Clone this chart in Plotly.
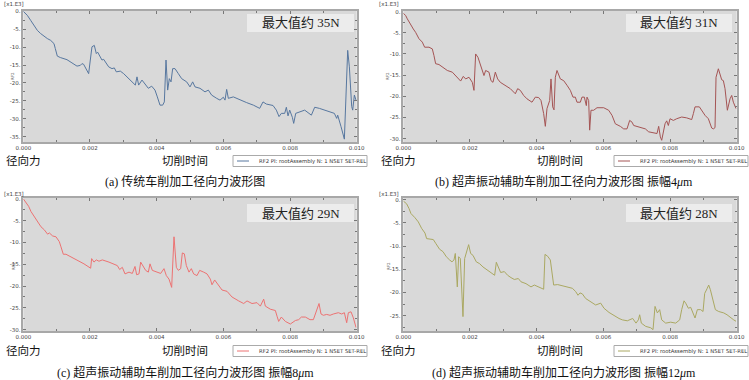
import plotly.graph_objects as go

# ---------------- data (values in x1.E3 units as displayed) ----------------
t_a = [0, 0.00012, 0.00022, 0.00032, 0.00042, 0.00052, 0.00062, 0.00072, 0.00082, 0.00092, 0.00096,
       0.00102, 0.00111, 0.00131, 0.00146, 0.00161, 0.00171, 0.00176, 0.00181, 0.00191, 0.00196,
       0.00201, 0.00206, 0.00213, 0.00219, 0.00223, 0.00229, 0.00236, 0.00241, 0.00249, 0.00256,
       0.00266, 0.00273, 0.00279, 0.00291, 0.00301, 0.00311, 0.00326, 0.00336, 0.00341, 0.00346,
       0.00356, 0.00366, 0.00375, 0.00385, 0.00395, 0.00402, 0.0041, 0.00418, 0.00423, 0.00428,
       0.00433, 0.00438, 0.00443, 0.00448, 0.00455, 0.00465, 0.00475, 0.0049, 0.005, 0.00508,
       0.00515, 0.0053, 0.00545, 0.00555, 0.00565, 0.0058, 0.0059, 0.006, 0.00605, 0.0061,
       0.00615, 0.0063, 0.0065, 0.0067, 0.0069, 0.00709, 0.00719, 0.00729, 0.00749, 0.00759,
       0.00767, 0.00774, 0.00784, 0.00789, 0.00794, 0.00799, 0.00807, 0.00811, 0.00817, 0.00829,
       0.00844, 0.00864, 0.00874, 0.00888, 0.00918, 0.00933, 0.0094, 0.00943, 0.00953, 0.00963,
       0.00973, 0.00978, 0.00985, 0.00988, 0.00993, 0.00998]
f_a = [0, -1.1, -2.5, -3.9, -5.3, -6.2, -7.0, -7.6, -8.1, -9.0, -10.4,
       -12.5, -12.9, -13.5, -14.4, -15.3, -15.1, -14.6, -14.8, -16.4, -17.4,
       -13.6, -9.9, -9.5, -11.8, -11.4, -12.5, -13.6, -13.4, -14.6, -15.5,
       -16.0, -15.8, -16.9, -16.7, -17.4, -18.3, -19.7, -20.6, -18.3, -20.6,
       -19.2, -20.6, -21.5, -20.9, -22.0, -23.9, -26.2, -26.2, -25.3, -13.6,
       -22.0, -18.8, -19.7, -16.0, -16.0, -17.4, -18.8, -19.7, -21.1, -19.7,
       -21.1, -21.5, -22.5, -22.0, -23.4, -24.3, -24.8, -24.0, -24.8, -21.8,
       -24.3, -23.9, -24.8, -25.5, -26.2, -27.1, -25.3, -25.9, -26.3, -27.6,
       -29.4, -28.5, -28.5, -26.8, -29.2, -27.6, -29.6, -31.3, -28.5, -28.0,
       -27.6, -29.0, -26.8, -27.1, -28.0, -28.5, -29.9, -29.0, -32.2, -35.7,
       -10.9, -15.5, -26.6, -27.6, -23.4, -24.8]

t_b = [0, 0.00007, 0.00012, 0.0002, 0.0003, 0.00037, 0.00047, 0.00057, 0.00064, 0.00077, 0.00087,
       0.00092, 0.00097, 0.00107, 0.00117, 0.00132, 0.00147, 0.00157, 0.00167, 0.00172, 0.0018,
       0.00187, 0.00197, 0.00207, 0.00212, 0.00217, 0.00224, 0.00232, 0.00237, 0.00242, 0.00247,
       0.00257, 0.00263, 0.00269, 0.00276, 0.00283, 0.00291, 0.00306, 0.00321, 0.00336, 0.00343,
       0.00351, 0.00361, 0.00371, 0.00386, 0.00396, 0.00406, 0.00413, 0.00421, 0.00426, 0.00431,
       0.00439, 0.00443, 0.00448, 0.00452, 0.00456, 0.00461, 0.00471, 0.00481, 0.00491, 0.00501,
       0.00509, 0.00516, 0.00521, 0.00531, 0.00536, 0.00543, 0.00549, 0.00551, 0.00556, 0.00559,
       0.00563, 0.00571, 0.00581, 0.00601, 0.00616, 0.00626, 0.00636, 0.00651, 0.00661, 0.00671,
       0.00679, 0.00686, 0.00691, 0.00701, 0.00711, 0.00726, 0.00736, 0.00751, 0.00761, 0.00766,
       0.00771, 0.00775, 0.0078, 0.00785, 0.0079, 0.00795, 0.008, 0.0081, 0.0082, 0.00835,
       0.0085, 0.00865, 0.0087, 0.00875, 0.00888, 0.00895, 0.00905, 0.00915, 0.00925, 0.0093,
       0.00935, 0.00938, 0.00945, 0.00955, 0.0096, 0.00965, 0.00972, 0.0098, 0.00985, 0.0099,
       0.00998]
f_b = [-0.4, -0.9, -1.7, -2.9, -4.1, -4.9, -6.4, -7.2, -8.4, -8.4, -8.8,
       -10.4, -12.3, -12.5, -13.1, -13.9, -14.3, -15.1, -15.9, -16.4, -15.3,
       -15.9, -15.5, -16.7, -18.6, -10.0, -10.8, -12.7, -13.5, -15.1, -13.9,
       -14.3, -16.3, -16.7, -14.3, -15.9, -16.7, -17.4, -18.2, -19.4, -18.2,
       -18.6, -19.8, -20.6, -21.4, -20.2, -20.3, -21.0, -24.1, -27.1, -22.9,
       -21.0, -15.9, -22.5, -23.2, -15.5, -13.9, -15.9, -16.3, -17.4, -18.6,
       -20.2, -20.2, -21.4, -21.4, -20.2, -20.2, -22.2, -20.2, -21.0, -28.0,
       -23.3, -23.3, -22.7, -22.7, -23.3, -24.5, -26.5, -27.1, -27.7, -27.7,
       -25.7, -26.1, -26.9, -27.1, -27.3, -27.7, -28.4, -28.7, -28.8, -27.1,
       -29.6, -30.4, -28.8, -26.5, -25.8, -26.9, -25.3, -25.7, -25.3, -24.9,
       -25.1, -25.5, -24.1, -22.5, -22.5, -23.3, -24.5, -25.3, -27.5, -27.7,
       -27.4, -15.5, -13.5, -16.1, -16.3, -18.2, -23.3, -20.6, -19.8, -21.4,
       -22.9]

t_c = [0, 0.00008, 0.00016, 0.00023, 0.00033, 0.00043, 0.00053, 0.00063, 0.00073, 0.00078, 0.00088,
       0.00098, 0.00108, 0.00113, 0.0012, 0.00128, 0.00143, 0.00163, 0.00182, 0.00202, 0.00205,
       0.00212, 0.00219, 0.00227, 0.00237, 0.00257, 0.00272, 0.00282, 0.00289, 0.00297, 0.00305,
       0.00317, 0.00327, 0.00335, 0.0034, 0.00347, 0.00352, 0.00359, 0.00367, 0.00375, 0.0038,
       0.00387, 0.00402, 0.00412, 0.00422, 0.00429, 0.00437, 0.00445, 0.00452, 0.00459, 0.00465,
       0.00472, 0.00477, 0.00483, 0.00489, 0.00497, 0.00504, 0.00511, 0.00521, 0.00529, 0.00541,
       0.00551, 0.00561, 0.00566, 0.00574, 0.00586, 0.00596, 0.00611, 0.00626, 0.00646, 0.00661,
       0.00671, 0.00686, 0.00701, 0.00711, 0.00721, 0.00726, 0.00741, 0.00756, 0.00761, 0.00766,
       0.00774, 0.00786, 0.00801, 0.00816, 0.00826, 0.00834, 0.00846, 0.0086, 0.0087, 0.00877,
       0.00883, 0.00887, 0.00893, 0.009, 0.0091, 0.0092, 0.0093, 0.00945, 0.00955, 0.00963,
       0.0097, 0.00975, 0.00983, 0.0099, 0.00998]
f_c = [0, -0.9, -1.7, -2.9, -4.0, -5.2, -6.4, -7.1, -8.1, -7.8, -8.5,
       -8.7, -9.8, -11.0, -12.7, -12.7, -13.3, -14.1, -14.9, -15.9, -13.7,
       -14.5, -14.0, -14.3, -14.0, -14.5, -14.9, -15.3, -16.2, -15.7, -17.2,
       -16.8, -17.1, -15.5, -17.4, -17.2, -14.5, -15.5, -16.4, -16.8, -14.9,
       -16.4, -16.8, -17.1, -16.0, -17.6, -18.4, -20.3, -8.7, -15.7, -16.4,
       -16.0, -12.4, -12.6, -15.3, -16.8, -16.0, -17.2, -17.6, -16.4, -16.8,
       -17.2, -18.4, -19.7, -18.6, -19.9, -20.9, -21.2, -22.5, -23.4, -24.0,
       -23.4, -24.0, -23.8, -24.6, -23.0, -24.6, -25.3, -25.6, -26.9, -28.1,
       -27.1, -28.1, -28.7, -27.9, -27.7, -27.1, -27.1, -27.7, -27.7, -26.1,
       -25.0, -24.0, -26.4, -26.7, -26.5, -26.7, -26.4, -26.1, -26.4, -26.1,
       -28.4, -26.1, -25.9, -27.3, -29.5]

t_d = [0, 0.0001, 0.00017, 0.00023, 0.00035, 0.00045, 0.00055, 0.00065, 0.0007, 0.0008, 0.0009,
       0.00098, 0.00109, 0.00119, 0.00129, 0.00139, 0.00146, 0.00152, 0.00156, 0.00162, 0.00166,
       0.00171, 0.00176, 0.00179, 0.00184, 0.00191, 0.00196, 0.00202, 0.00209, 0.00219, 0.00229,
       0.00239, 0.00249, 0.00259, 0.00269, 0.00274, 0.00279, 0.00286, 0.00292, 0.00303, 0.00313,
       0.00323, 0.00333, 0.00345, 0.00353, 0.00368, 0.00383, 0.00393, 0.00408, 0.00421, 0.00425,
       0.00433, 0.00441, 0.00451, 0.00463, 0.00478, 0.00493, 0.00507, 0.00517, 0.00524, 0.0053,
       0.00537, 0.00547, 0.00562, 0.00577, 0.00592, 0.00602, 0.00617, 0.00632, 0.00647, 0.00657,
       0.00672, 0.00688, 0.00698, 0.00705, 0.00709, 0.00714, 0.00727, 0.00742, 0.00749, 0.00755,
       0.00762, 0.00769, 0.00775, 0.00787, 0.00802, 0.00817, 0.00829, 0.00835, 0.00842, 0.00847,
       0.00855, 0.00862, 0.00867, 0.00875, 0.00882, 0.00892, 0.00899, 0.00904, 0.00911, 0.00916,
       0.00921, 0.00928, 0.00936, 0.00946, 0.00961, 0.00971, 0.00981, 0.00991, 0.00998]
f_d = [-0.3, -0.9, -1.9, -3.0, -3.9, -4.8, -6.2, -7.2, -8.4, -8.5, -8.6,
       -9.5, -10.7, -11.2, -12.3, -13.0, -13.4, -13.0, -11.6, -18.8, -12.3,
       -12.7, -19.5, -25.2, -12.7, -11.2, -9.7, -11.6, -12.0, -13.4, -13.8,
       -14.5, -15.0, -15.5, -16.0, -16.3, -13.5, -14.8, -15.7, -15.5, -16.3,
       -16.8, -17.2, -17.0, -17.7, -18.1, -18.8, -18.4, -18.9, -19.3, -11.8,
       -12.2, -13.0, -18.4, -18.3, -18.6, -18.9, -19.1, -19.8, -20.6, -20.1,
       -20.3, -21.3, -22.0, -22.7, -22.3, -23.4, -24.3, -25.0, -25.6, -25.9,
       -26.1, -25.6, -26.6, -25.9, -24.8, -26.6, -27.3, -27.6, -28.0, -23.0,
       -24.4, -23.7, -25.9, -26.6, -26.4, -26.6, -25.9, -23.7, -21.8, -22.3,
       -23.4, -23.2, -24.1, -25.5, -23.7, -23.7, -24.1, -20.2, -19.2, -18.4,
       -19.4, -21.6, -23.7, -24.1, -24.4, -24.8, -25.4, -25.9, -26.2]

x_ticks = [0.000, 0.002, 0.004, 0.006, 0.008, 0.010]
x_tick_text = ["0.000", "0.002", "0.004", "0.006", "0.008", "0.010"]
y_ticks_a = [0, -5, -10, -15, -20, -25, -30, -35]
y_ticks_b = [0, -5, -10, -15, -20, -25, -30]
y_ticks_c = [0, -5, -10, -15, -20, -25, -30]
y_ticks_d = [0, -5, -10, -15, -20, -25]

max_labels = ["最大值约 35N", "最大值约 31N", "最大值约 29N", "最大值约 28N"]
captions = ["(a) 传统车削加工径向力波形图",
            "(b) 超声振动辅助车削加工径向力波形图 振幅4<i>μ</i>m",
            "(c) 超声振动辅助车削加工径向力波形图 振幅8<i>μ</i>m",
            "(d) 超声振动辅助车削加工径向力波形图 振幅12<i>μ</i>m"]
legend_text = "RF2 PI: rootAssembly N: 1 NSET SET-REL"
colors = ["#57779f", "#a45454", "#ec7272", "#aaa862"]

W, H = 749, 380
series = [(t_a, f_a, y_ticks_a, [-36.5, 0.1]),
          (t_b, f_b, y_ticks_b, [-30.8, 0.15]),
          (t_c, f_c, y_ticks_c, [-30.3, 0.2]),
          (t_d, f_d, y_ticks_d, [-28.3, 0.35])]
# pixel frames: (left, right, top, bottom)
frames = [(23.3, 356.7, 11, 142), (403.3, 736.7, 11, 142),
          (23.3, 356.7, 198, 331), (403.3, 736.7, 198, 331)]

fig = go.Figure()
layout = dict(width=W, height=H, margin=dict(l=0, r=0, t=0, b=0, autoexpand=False),
              paper_bgcolor="white", plot_bgcolor="#d9d9d9", showlegend=False,
              template="none")
annotations = []
shapes = []
frame_col = "#a8a8a8"
tick_font = dict(family="DejaVu Sans", size=5.5, color="#444444")
cjk = "Noto Sans CJK SC"


def ann(x, y, text, font, **kw):
    d = dict(x=x / W, y=1 - y / H, xref="paper", yref="paper", text=text, showarrow=False,
             xanchor="center", yanchor="middle", font=font)
    d.update(kw)
    annotations.append(d)


for i, ((t, f, yt, yr), (L, R, T, B), col) in enumerate(zip(series, frames, colors)):
    n = "" if i == 0 else str(i + 1)
    fig.add_trace(go.Scatter(x=t, y=f, mode="lines", line=dict(color=col, width=1),
                             xaxis="x" + n, yaxis="y" + n, hoverinfo="skip"))
    layout["xaxis" + n] = dict(domain=[L / W, R / W], range=[0, 0.010], anchor="y" + n,
                               tickvals=x_ticks, ticktext=x_tick_text, tickfont=tick_font,
                               ticks="inside", ticklen=3, tickcolor="#777777", automargin=False,
                               minor=dict(dtick=0.001, ticks="inside", ticklen=2, tickcolor="#777777"),
                               showgrid=False, zeroline=False, showline=True, linecolor=frame_col,
                               linewidth=1.5, mirror="ticks")
    layout["yaxis" + n] = dict(domain=[1 - B / H, 1 - T / H], range=yr, anchor="x" + n,
                               tickvals=yt, ticktext=[f"{v}." for v in yt], tickfont=tick_font,
                               ticks="inside", ticklen=3, tickcolor="#777777", automargin=False,
                               minor=dict(dtick=2.5, ticks="inside", ticklen=2, tickcolor="#777777"),
                               showgrid=False, zeroline=False, showline=True, linecolor=frame_col,
                               linewidth=1.5, mirror="ticks")
    ox = 0 if i % 2 == 0 else 375
    oy = 0 if i < 2 else 190
    ann(ox + 2, oy + 4, "[x1.E3]", dict(family="DejaVu Sans", size=5.5, color="#444444"),
        xanchor="left")
    ann(ox + 13, oy + 76, "RF2", dict(family="DejaVu Sans", size=4, color="#444444"), textangle=-90)
    # max value box
    bx0, bx1 = (247, 354) if i % 2 == 0 else (626, 732)
    by0, by1 = (oy + 14, oy + 32)
    shapes.append(dict(type="rect", xref="paper", yref="paper", x0=bx0 / W, x1=bx1 / W,
                       y0=1 - by1 / H, y1=1 - by0 / H, fillcolor="#ececec", line=dict(width=0)))
    ann((bx0 + bx1) / 2, (by0 + by1) / 2, max_labels[i],
        dict(family="Liberation Serif, " + cjk, size=13, color="#222222"))
    # bottom labels
    ann(ox + 4, oy + 159.5, "径向力", dict(family=cjk, size=11.5, color="#111111"), xanchor="left")
    ann(ox + 185, oy + 159.5, "切削时间", dict(family=cjk, size=11.5, color="#111111"))
    # legend box
    lx0 = 233 if i % 2 == 0 else 614
    lx1 = lx0 + 134
    ly0, ly1 = oy + 155.5, oy + 166.5
    shapes.append(dict(type="rect", xref="paper", yref="paper", x0=lx0 / W, x1=lx1 / W,
                       y0=1 - ly1 / H, y1=1 - ly0 / H, fillcolor="white",
                       line=dict(color="#aaaaaa", width=1)))
    shapes.append(dict(type="line", xref="paper", yref="paper", x0=(lx0 + 4) / W, x1=(lx0 + 16) / W,
                       y0=1 - (ly0 + ly1) / 2 / H, y1=1 - (ly0 + ly1) / 2 / H,
                       line=dict(color=col, width=1)))
    ann(lx0 + 24, (ly0 + ly1) / 2, legend_text, dict(family="DejaVu Sans", size=5.3, color="#333333"),
        xanchor="left")
    # caption
    ann(ox + 185 + (4 if i % 2 else 0), oy + 182, captions[i],
        dict(family="Liberation Serif, " + cjk, size=12, color="#111111"))

layout["annotations"] = annotations
layout["shapes"] = shapes
fig.update_layout(**layout)
fig.write_html("out.html", config={"displayModeBar": False},
               post_script="document.body.style.margin='0';document.body.style.overflow='hidden';")
